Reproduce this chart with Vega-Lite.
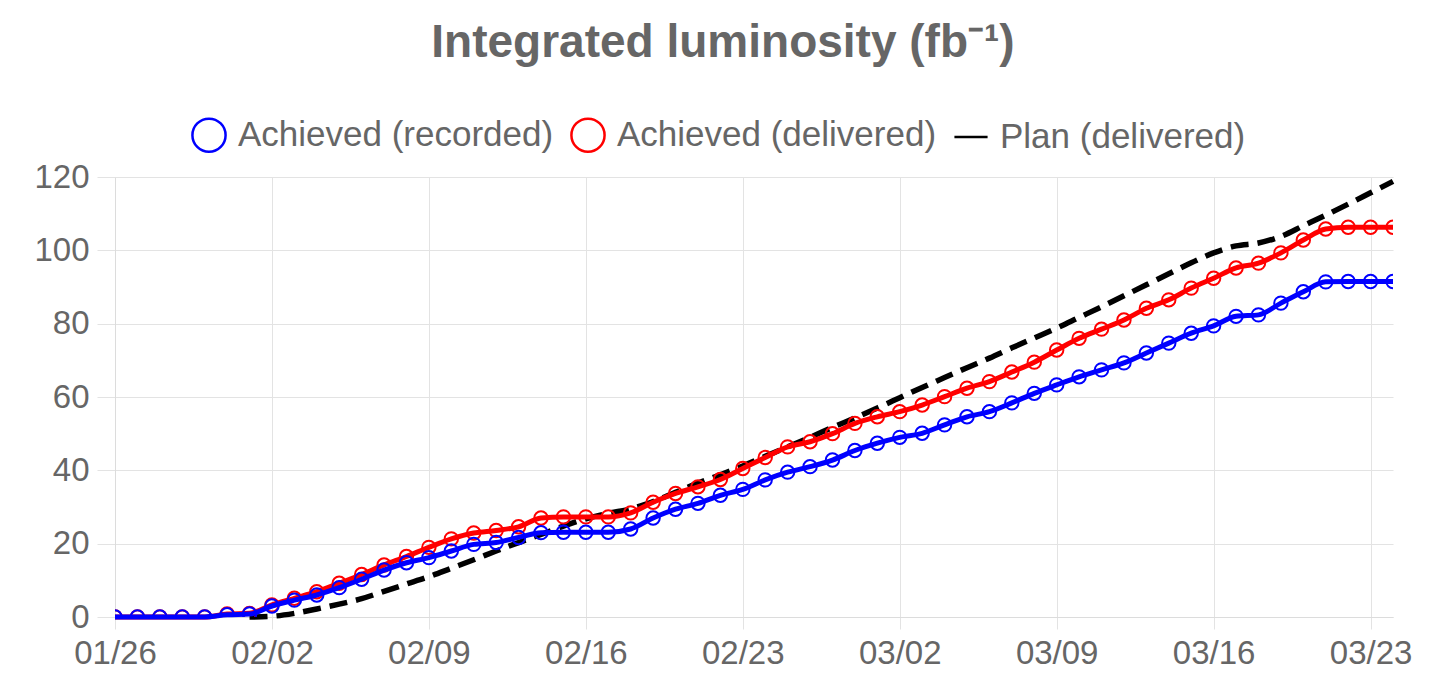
{
  "$schema": "https://vega.github.io/schema/vega-lite/v6.json",
  "width": 1278,
  "height": 440,
  "autosize": {"type": "none"},
  "padding": {"left": 115, "top": 177, "right": 61, "bottom": 74},
  "background": "white",
  "title": {"text": "Integrated luminosity (fb⁻¹)", "fontSize": 46, "font": "Liberation Sans", "fontWeight": "bold", "color": "#666", "anchor": "middle", "offset": 50, "dx": -31},
  "data": {"values": [
    {"date": "2025-01-26", "rec": 0, "del": 0, "plan": null},
    {"date": "2025-01-27", "rec": 0, "del": 0, "plan": null},
    {"date": "2025-01-28", "rec": 0, "del": 0, "plan": null},
    {"date": "2025-01-29", "rec": 0, "del": 0, "plan": null},
    {"date": "2025-01-30", "rec": 0, "del": 0, "plan": null},
    {"date": "2025-01-31", "rec": 0.6, "del": 0.8, "plan": null},
    {"date": "2025-02-01", "rec": 0.8, "del": 1.0, "plan": 0},
    {"date": "2025-02-02", "rec": 3.0, "del": 3.3, "plan": 0.2},
    {"date": "2025-02-03", "rec": 4.6, "del": 5.1, "plan": 1},
    {"date": "2025-02-04", "rec": 6.0, "del": 6.9, "plan": 2.2},
    {"date": "2025-02-05", "rec": 8.0, "del": 9.2, "plan": 3.5},
    {"date": "2025-02-06", "rec": 10.3, "del": 11.6, "plan": 5},
    {"date": "2025-02-07", "rec": 12.8, "del": 14.2, "plan": 7},
    {"date": "2025-02-08", "rec": 14.8, "del": 16.5, "plan": 9},
    {"date": "2025-02-09", "rec": 16.2, "del": 19.0, "plan": 11},
    {"date": "2025-02-10", "rec": 18.0, "del": 21.3, "plan": 13.3},
    {"date": "2025-02-11", "rec": 19.8, "del": 22.9, "plan": 15.6},
    {"date": "2025-02-12", "rec": 20.3, "del": 23.6, "plan": 18},
    {"date": "2025-02-13", "rec": 21.7, "del": 24.6, "plan": 20.3},
    {"date": "2025-02-14", "rec": 23.0, "del": 27.0, "plan": 22.5},
    {"date": "2025-02-15", "rec": 23.1, "del": 27.3, "plan": 24.8},
    {"date": "2025-02-16", "rec": 23.1, "del": 27.3, "plan": 26.8},
    {"date": "2025-02-17", "rec": 23.1, "del": 27.3, "plan": 28.3},
    {"date": "2025-02-18", "rec": 24.0, "del": 28.4, "plan": 29.5},
    {"date": "2025-02-19", "rec": 27.0, "del": 31.3, "plan": 31.5},
    {"date": "2025-02-20", "rec": 29.4, "del": 33.7, "plan": 34},
    {"date": "2025-02-21", "rec": 31.0, "del": 35.5, "plan": 36.5},
    {"date": "2025-02-22", "rec": 33.2, "del": 37.5, "plan": 38.8},
    {"date": "2025-02-23", "rec": 34.8, "del": 40.5, "plan": 41.2},
    {"date": "2025-02-24", "rec": 37.4, "del": 43.5, "plan": 43.8},
    {"date": "2025-02-25", "rec": 39.5, "del": 46.4, "plan": 46.4},
    {"date": "2025-02-26", "rec": 41.0, "del": 47.8, "plan": 49},
    {"date": "2025-02-27", "rec": 42.8, "del": 50.0, "plan": 51.7},
    {"date": "2025-02-28", "rec": 45.4, "del": 52.8, "plan": 54.3},
    {"date": "2025-03-01", "rec": 47.4, "del": 54.6, "plan": 57},
    {"date": "2025-03-02", "rec": 49.0, "del": 56.0, "plan": 59.8},
    {"date": "2025-03-03", "rec": 50.1, "del": 57.8, "plan": 62.6},
    {"date": "2025-03-04", "rec": 52.4, "del": 60.1, "plan": 65.3},
    {"date": "2025-03-05", "rec": 54.6, "del": 62.4, "plan": 68},
    {"date": "2025-03-06", "rec": 56.0, "del": 64.2, "plan": 70.6},
    {"date": "2025-03-07", "rec": 58.4, "del": 66.8, "plan": 73.4},
    {"date": "2025-03-08", "rec": 61.0, "del": 69.5, "plan": 76.1},
    {"date": "2025-03-09", "rec": 63.3, "del": 72.8, "plan": 78.8},
    {"date": "2025-03-10", "rec": 65.5, "del": 76.0, "plan": 81.7},
    {"date": "2025-03-11", "rec": 67.4, "del": 78.5, "plan": 84.6},
    {"date": "2025-03-12", "rec": 69.3, "del": 81.0, "plan": 87.6},
    {"date": "2025-03-13", "rec": 72.0, "del": 84.2, "plan": 90.6},
    {"date": "2025-03-14", "rec": 74.7, "del": 86.5, "plan": 93.6},
    {"date": "2025-03-15", "rec": 77.4, "del": 89.7, "plan": 96.6},
    {"date": "2025-03-16", "rec": 79.4, "del": 92.4, "plan": 99.3},
    {"date": "2025-03-17", "rec": 82.0, "del": 95.2, "plan": 101.2},
    {"date": "2025-03-18", "rec": 82.4, "del": 96.5, "plan": 102},
    {"date": "2025-03-19", "rec": 85.6, "del": 99.3, "plan": 103.8},
    {"date": "2025-03-20", "rec": 88.7, "del": 102.8, "plan": 106.7},
    {"date": "2025-03-21", "rec": 91.4, "del": 105.8, "plan": 109.6},
    {"date": "2025-03-22", "rec": 91.5, "del": 106.3, "plan": 112.6},
    {"date": "2025-03-23", "rec": 91.5, "del": 106.3, "plan": 115.7},
    {"date": "2025-03-24", "rec": 91.5, "del": 106.3, "plan": 118.8}
  ]},
  "encoding": {
    "x": {
      "field": "date", "type": "temporal",
      "scale": {"type": "utc", "domain": ["2025-01-26", "2025-03-24"], "nice": false},
      "axis": {"title": null, "format": "%m/%d", "tickCount": {"interval": "week", "step": 1}, "labelFontSize": 33, "labelFont": "Liberation Sans", "labelColor": "#666", "labelPadding": 8, "tickSize": 12, "grid": true, "labelFlush": false, "labelOverlap": false}
    }
  },
  "layer": [
    {
      "mark": {"type": "line", "color": "#000000", "strokeWidth": 5.5, "strokeDash": [18, 9], "interpolate": "monotone"},
      "encoding": {"y": {"field": "plan", "type": "quantitative", "scale": {"domain": [0, 120], "nice": false}, "axis": {"title": null, "values": [0, 20, 40, 60, 80, 100, 120], "labelFontSize": 33, "labelFont": "Liberation Sans", "labelColor": "#666", "labelPadding": 8, "tickSize": 18}}}
    },
    {
      "mark": {"type": "line", "color": "#ff0000", "strokeWidth": 5, "interpolate": "monotone"},
      "encoding": {"y": {"field": "del", "type": "quantitative"}}
    },
    {
      "mark": {"type": "point", "filled": false, "size": 180, "strokeWidth": 2, "opacity": 1, "clip": true},
      "encoding": {
        "y": {"field": "del", "type": "quantitative"},
        "color": {"datum": "Achieved (delivered)", "type": "nominal", "scale": {"domain": ["Achieved (recorded)", "Achieved (delivered)", "Plan (delivered)"], "range": ["#0000ff", "#ff0000", "#000000"]}},
        "shape": {"datum": "Achieved (delivered)", "type": "nominal", "scale": {"domain": ["Achieved (recorded)", "Achieved (delivered)", "Plan (delivered)"], "range": ["circle", "circle", "stroke"]}}
      }
    },
    {
      "mark": {"type": "line", "color": "#0000ff", "strokeWidth": 5, "interpolate": "monotone"},
      "encoding": {"y": {"field": "rec", "type": "quantitative"}}
    },
    {
      "mark": {"type": "point", "filled": false, "size": 180, "strokeWidth": 2, "opacity": 1, "clip": true},
      "encoding": {
        "y": {"field": "rec", "type": "quantitative"},
        "color": {"datum": "Achieved (recorded)", "type": "nominal", "scale": {"domain": ["Achieved (recorded)", "Achieved (delivered)", "Plan (delivered)"], "range": ["#0000ff", "#ff0000", "#000000"]}},
        "shape": {"datum": "Achieved (recorded)", "type": "nominal", "scale": {"domain": ["Achieved (recorded)", "Achieved (delivered)", "Plan (delivered)"], "range": ["circle", "circle", "stroke"]}}
      }
    }
  ],
  "config": {
    "view": {"stroke": null},
    "axis": {"gridColor": "#e3e3e3", "gridWidth": 1, "tickColor": "#e3e3e3", "domainColor": "#dcdcdc", "domainWidth": 1},
    "legend": {"orient": "none", "legendX": 76, "legendY": -60, "direction": "horizontal", "title": null, "labelFontSize": 35, "labelFont": "Liberation Sans", "labelColor": "#666", "labelLimit": 0, "symbolSize": 1100, "symbolStrokeWidth": 2.5, "labelOffset": 11, "columnPadding": 12}
  }
}
